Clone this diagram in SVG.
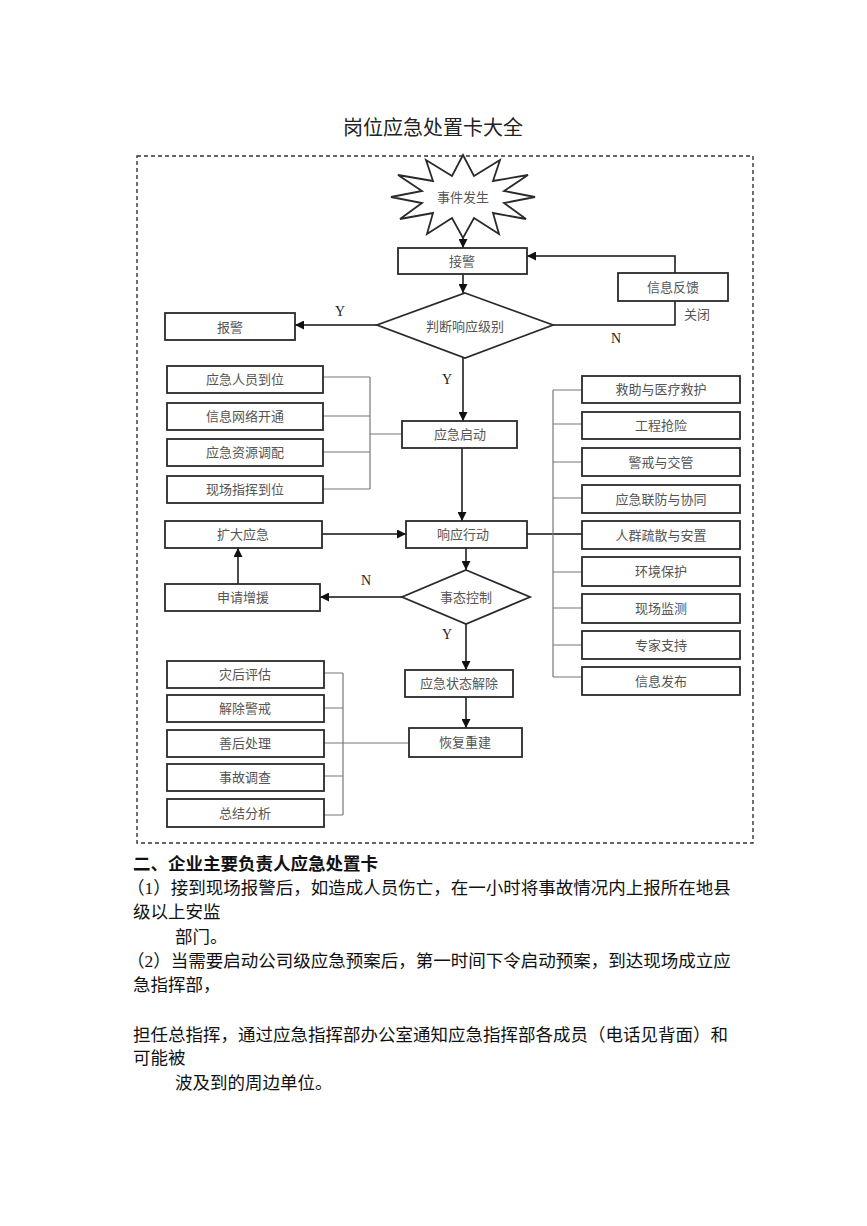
<svg xmlns="http://www.w3.org/2000/svg" width="867" height="1226" viewBox="0 0 867 1226">
<style>
.bx{fill:#fff;stroke:#2a2a2a;stroke-width:1.8}
.t{font-family:"Liberation Serif","Noto Sans CJK SC",serif;font-size:13px;fill:#555;text-anchor:middle;dominant-baseline:central}
.yn{font-family:"Liberation Serif","Noto Sans CJK SC",serif;font-size:14px;fill:#222;text-anchor:middle;dominant-baseline:central}
.ln{fill:none;stroke:#111;stroke-width:1.5}
.gl{fill:none;stroke:#777;stroke-width:1.2}
.p{font-family:"Liberation Serif","Noto Sans CJK SC",serif;font-size:17.5px;fill:#111}
</style>
<defs>
<marker id="ah" markerWidth="9" markerHeight="9" refX="9" refY="4.5" orient="auto" markerUnits="userSpaceOnUse"><path d="M0,0 L9,4.5 L0,9 z" fill="#111"/></marker>
</defs>
<rect width="867" height="1226" fill="#fff"/>
<text x="433" y="128" font-family="Liberation Serif,Noto Sans CJK SC,serif" font-size="20" fill="#222" text-anchor="middle" dominant-baseline="central">岗位应急处置卡大全</text>
<rect x="137" y="156" width="616" height="687" fill="none" stroke="#333" stroke-width="1.4" stroke-dasharray="4 3"/>

<g id="connectors">
<path class="ln" d="M463,222 V248" marker-end="url(#ah)"/>
<path class="ln" d="M463,274 V293" marker-end="url(#ah)"/>
<path class="ln" d="M377,325 H295" marker-end="url(#ah)"/>
<path class="ln" d="M553,325 H675 V301"/>
<path class="ln" d="M675,273 V256 H527" marker-end="url(#ah)"/>
<path class="ln" d="M463,358 V421" marker-end="url(#ah)"/>
<path class="gl" d="M323,377 H370 M323,416 H370 M323,452 H370 M323,489 H370 M370,377 V489 M370,434 H402"/>
<path class="ln" d="M462,448 V521" marker-end="url(#ah)"/>
<path class="ln" d="M322,534 H406" marker-end="url(#ah)"/>
<path class="ln" d="M527,534 H582"/>
<path class="gl" d="M553,390 V677 M553,390 H582 M553,424 H582 M553,462 H582 M553,498 H582 M553,572 H582 M553,608 H582 M553,645 H582 M553,677 H582"/>
<path class="ln" d="M466,548 V570" marker-end="url(#ah)"/>
<path class="ln" d="M402,597 H320" marker-end="url(#ah)"/>
<path class="ln" d="M238,584 V548" marker-end="url(#ah)"/>
<path class="ln" d="M466,624 V670" marker-end="url(#ah)"/>
<path class="ln" d="M466,697 V728" marker-end="url(#ah)"/>
<path class="gl" d="M324,673 H343 M324,708 H343 M324,743 H409 M324,776 H343 M324,815 H343 M343,673 V815"/>
</g>

<g id="n-start">
<polygon class="bx" points="463,155 474,176 500,160 493,181 528,175 504,191 535,197 504,203 526,219 493,213 499,234 474,218 463,238 452,218 427,234 433,213 400,219 422,203 391,197 422,191 398,175 433,181 426,160 452,176"/>
<text class="t" x="463" y="197">事件发生</text>
</g>
<g id="n-jiejing"><rect class="bx" x="398" y="248" width="129" height="26"/><text class="t" x="462" y="261">接警</text></g>
<g id="n-judge"><polygon class="bx" points="465,293 553,325 465,358 377,325"/><text class="t" x="465" y="326">判断响应级别</text></g>
<g id="n-baojing"><rect class="bx" x="165" y="313" width="130" height="27"/><text class="t" x="230" y="327">报警</text></g>
<g id="n-feedback"><rect class="bx" x="618" y="273" width="110" height="28"/><text class="t" x="673" y="287">信息反馈</text></g>
<text class="t" x="697" y="314">关闭</text>
<text class="yn" x="340" y="311">Y</text>
<text class="yn" x="616" y="338">N</text>
<text class="yn" x="447" y="379">Y</text>
<text class="yn" x="366" y="580">N</text>
<text class="yn" x="447" y="634">Y</text>

<g id="n-l1"><rect class="bx" x="167" y="366" width="156" height="27"/><text class="t" x="245" y="379">应急人员到位</text></g>
<g id="n-l2"><rect class="bx" x="167" y="403" width="156" height="27"/><text class="t" x="245" y="416">信息网络开通</text></g>
<g id="n-l3"><rect class="bx" x="167" y="439" width="156" height="27"/><text class="t" x="245" y="452">应急资源调配</text></g>
<g id="n-l4"><rect class="bx" x="167" y="476" width="156" height="27"/><text class="t" x="245" y="489">现场指挥到位</text></g>
<g id="n-qidong"><rect class="bx" x="402" y="421" width="115" height="27"/><text class="t" x="460" y="434">应急启动</text></g>
<g id="n-xiangying"><rect class="bx" x="406" y="521" width="121" height="27"/><text class="t" x="463" y="534">响应行动</text></g>
<g id="n-kuoda"><rect class="bx" x="165" y="521" width="157" height="27"/><text class="t" x="243" y="534">扩大应急</text></g>
<g id="n-shentai"><polygon class="bx" points="466,570 530,597 466,624 402,597"/><text class="t" x="466" y="597">事态控制</text></g>
<g id="n-shenqing"><rect class="bx" x="165" y="584" width="155" height="27"/><text class="t" x="243" y="597">申请增援</text></g>
<g id="n-jiechu"><rect class="bx" x="405" y="670" width="108" height="27"/><text class="t" x="459" y="683">应急状态解除</text></g>
<g id="n-huifu"><rect class="bx" x="409" y="728" width="113" height="29"/><text class="t" x="465" y="742">恢复重建</text></g>

<g id="n-r1"><rect class="bx" x="582" y="376" width="158" height="27"/><text class="t" x="661" y="389">救助与医疗救护</text></g>
<g id="n-r2"><rect class="bx" x="582" y="412" width="158" height="27"/><text class="t" x="661" y="425">工程抢险</text></g>
<g id="n-r3"><rect class="bx" x="582" y="448" width="158" height="28"/><text class="t" x="661" y="462">警戒与交管</text></g>
<g id="n-r4"><rect class="bx" x="582" y="485" width="158" height="28"/><text class="t" x="661" y="499">应急联防与协同</text></g>
<g id="n-r5"><rect class="bx" x="582" y="521" width="158" height="28"/><text class="t" x="661" y="535">人群疏散与安置</text></g>
<g id="n-r6"><rect class="bx" x="582" y="557" width="158" height="29"/><text class="t" x="661" y="571">环境保护</text></g>
<g id="n-r7"><rect class="bx" x="582" y="594" width="158" height="29"/><text class="t" x="661" y="608">现场监测</text></g>
<g id="n-r8"><rect class="bx" x="582" y="631" width="158" height="28"/><text class="t" x="661" y="645">专家支持</text></g>
<g id="n-r9"><rect class="bx" x="582" y="667" width="158" height="28"/><text class="t" x="661" y="681">信息发布</text></g>

<g id="n-b1"><rect class="bx" x="167" y="661" width="157" height="27"/><text class="t" x="245" y="674">灾后评估</text></g>
<g id="n-b2"><rect class="bx" x="167" y="695" width="157" height="27"/><text class="t" x="245" y="708">解除警戒</text></g>
<g id="n-b3"><rect class="bx" x="167" y="730" width="157" height="27"/><text class="t" x="245" y="743">善后处理</text></g>
<g id="n-b4"><rect class="bx" x="167" y="764" width="157" height="27"/><text class="t" x="245" y="777">事故调查</text></g>
<g id="n-b5"><rect class="bx" x="167" y="799" width="157" height="28"/><text class="t" x="245" y="813">总结分析</text></g>

<g id="body">
<text class="p" x="133" y="870" font-weight="bold">二、企业主要负责人应急处置卡</text>
<text class="p" x="127" y="894">（1）接到现场报警后，如造成人员伤亡，在一小时将事故情况内上报所在地县</text>
<text class="p" x="133" y="918">级以上安监</text>
<text class="p" x="175" y="943">部门。</text>
<text class="p" x="127" y="967">（2）当需要启动公司级应急预案后，第一时间下令启动预案，到达现场成立应</text>
<text class="p" x="133" y="991">急指挥部，</text>
<text class="p" x="133" y="1041">担任总指挥，通过应急指挥部办公室通知应急指挥部各成员（电话见背面）和</text>
<text class="p" x="133" y="1064">可能被</text>
<text class="p" x="175" y="1089">波及到的周边单位。</text>
</g>
</svg>
